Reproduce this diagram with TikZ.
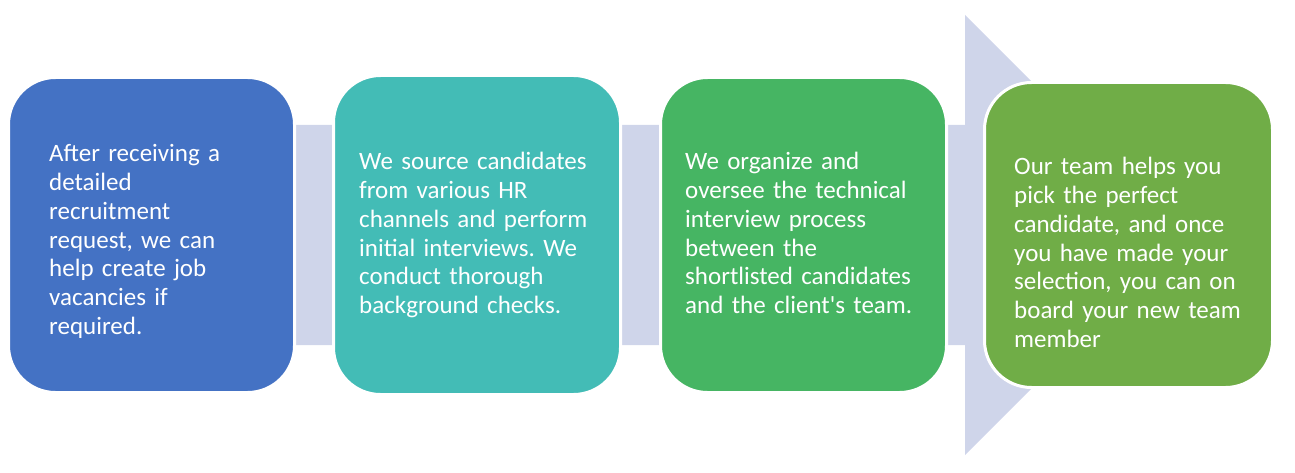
\documentclass[tikz,border=0pt]{standalone}
\usepackage{fontspec}
\setmainfont{Carlito}[Ligatures=TeXOff]
\frenchspacing
\definecolor{bandc}{HTML}{CFD5EA}
\definecolor{boxa}{HTML}{4472C4}
\definecolor{boxb}{HTML}{43BCB6}
\definecolor{boxc}{HTML}{46B563}
\definecolor{boxd}{HTML}{70AD47}
\tikzset{
  stagebox/.style={draw=white, line width=3pt, rounded corners=47pt},
  stagetext/.style={anchor=base west, inner sep=0pt, text width=300pt, align=left,
    text=white, font=\fontsize{25}{28.7}\selectfont}
}
\begin{document}
\begin{tikzpicture}[x=1pt,y=-1pt]
\useasboundingbox (0,0) rectangle (1295,473);
% background arrow
\fill[bandc] (150,125) -- (965,125) -- (965,15) -- (1185,235) -- (965,455) -- (965,345) -- (150,345) -- cycle;
% boxes
\filldraw[stagebox, fill=boxa] (8.5,77.5) rectangle (294.5,392.5);
\filldraw[stagebox, fill=boxb] (333.5,75.5) rectangle (620.5,394.5);
\filldraw[stagebox, fill=boxc] (660.5,77.5) rectangle (946.5,392.5);
\filldraw[stagebox, fill=boxd] (984.5,82.5) rectangle (1272.5,387.5);
% texts
\node[stagetext] (t1) at (49,162) {After receiving a\\detailed\\recruitment\\request, we can\\help create job\\vacancies if\\required.};
\node[stagetext] (t2) at (359,170) {We source candidates\\from various HR\\channels and perform\\initial interviews. We\\conduct thorough\\background checks.};
\node[stagetext] (t3) at (685,170) {We organize and\\oversee the technical\\interview process\\between the\\shortlisted candidates\\and the client's team.};
\node[stagetext] (t4) at (1014,175) {Our team helps you\\pick the perfect\\candidate, and once\\you have made your\\selection, you can on\\board your new team\\member};
\end{tikzpicture}
\end{document}
